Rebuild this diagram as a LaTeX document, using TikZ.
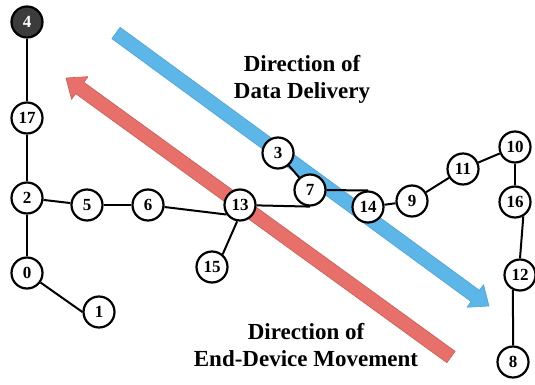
\documentclass[tikz,border=0pt]{standalone}
\usepackage{fontspec}
\setmainfont{Liberation Serif}
\usetikzlibrary{calc}
\definecolor{arrblue}{HTML}{5CB6E8}
\definecolor{arrblueedge}{HTML}{4FA3D6}
\definecolor{arrred}{HTML}{E8706A}
\definecolor{arrrededge}{HTML}{CC5A55}
\definecolor{nodedark}{HTML}{3C3C3C}
\begin{document}
\begin{tikzpicture}[x=1pt,y=-1pt,
  nd/.style={circle,draw=black,line width=2.2pt,fill=white,minimum size=31pt,inner sep=0pt,
    font=\fontsize{17}{17}\selectfont\bfseries},
  darknd/.style={nd,fill=nodedark,text=white},
  edge/.style={line width=2pt,draw=black},
  lbl/.style={align=center,font=\fontsize{23}{27}\selectfont\bfseries},
  bluearr/.style={fill=arrblue,draw=arrblueedge,line width=0.6pt,line join=round},
  redarr/.style={fill=arrred,draw=arrrededge,line width=0.6pt,line join=round}]
\useasboundingbox (0,0) rectangle (535,385);
% blue arrow
\coordinate (bT) at (116,33);
\coordinate (bP) at (489,306);
\coordinate (bH) at ($(bP)!17pt!(bT)$);
\path[bluearr] ($(bT)!7pt!90:(bP)$) -- ($(bH)!7pt!90:(bP)$) -- ($(bH)!14pt!90:(bP)$) -- (bP)
  -- ($(bH)!14pt!-90:(bP)$) -- ($(bH)!7pt!-90:(bP)$) -- ($(bT)!7pt!-90:(bP)$) -- cycle;
% red arrow
\coordinate (rT) at (451,357);
\coordinate (rP) at (66,78);
\coordinate (rH) at ($(rP)!17pt!(rT)$);
\path[redarr] ($(rT)!7pt!90:(rP)$) -- ($(rH)!7pt!90:(rP)$) -- ($(rH)!14pt!90:(rP)$) -- (rP)
  -- ($(rH)!14pt!-90:(rP)$) -- ($(rH)!7pt!-90:(rP)$) -- ($(rT)!7pt!-90:(rP)$) -- cycle;
% labels
\node[lbl] (dd) at (302,79) {Direction of\\Data Delivery};
\node[lbl] (em) at (306,345) {Direction of\\End-Device Movement};
% nodes
\node[darknd] (n4) at (27,22) {4};
\node[nd] (n17) at (27,118) {17};
\node[nd] (n2) at (27,198) {2};
\node[nd] (n0) at (27,273) {0};
\node[nd] (n1) at (99,312) {1};
\node[nd] (n5) at (87,205) {5};
\node[nd] (n6) at (148,205) {6};
\node[nd] (n13) at (240,205) {13};
\node[nd] (n15) at (212,267) {15};
\node[nd] (n3) at (278,153) {3};
\node[nd] (n7) at (310,190) {7};
\node[nd] (n14) at (368,207) {14};
\node[nd] (n9) at (412,201) {9};
\node[nd] (n11) at (463,169) {11};
\node[nd] (n10) at (515,147) {10};
\node[nd] (n16) at (515,202) {16};
\node[nd] (n12) at (520,275) {12};
\node[nd] (n8) at (513,362) {8};
% edges
\draw[edge] (n4) -- (n17);
\draw[edge] (n17) -- (n2);
\draw[edge] (n2) -- (n0);
\draw[edge] (n0) -- (n1.west);
\draw[edge] (n2) -- (n5);
\draw[edge] (n5) -- (n6);
\draw[edge] (n6) -- (n13.215);
\draw[edge] (n13.-100) -- (n15.50);
\draw[edge] (n13) -- (n7.south);
\draw[edge] (n3) -- (n7);
\draw[edge] (n7) -- (n14.north);
\draw[edge] (n14) -- (n9);
\draw[edge] (n9) -- (n11);
\draw[edge] (n11) -- (n10);
\draw[edge] (n10) -- (n16);
\draw[edge] (n16.-60) -- (n12.north);
\draw[edge] (n12.245) -- (n8.north);
\end{tikzpicture}
\end{document}
